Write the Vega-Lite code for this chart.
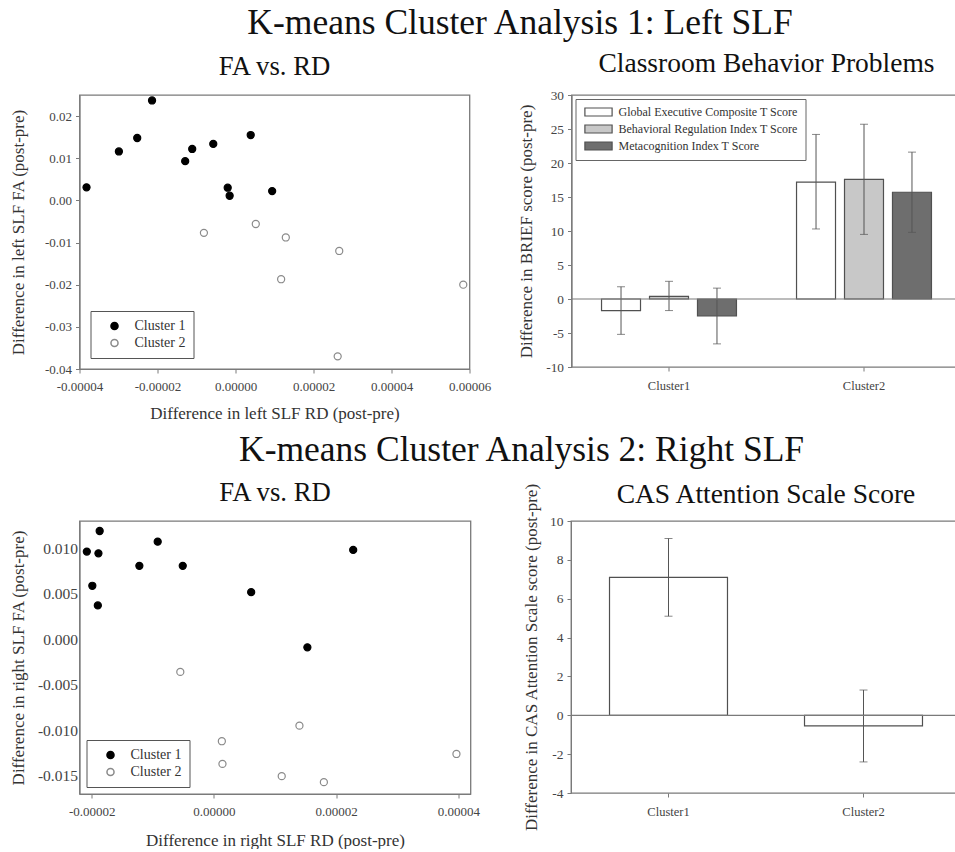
{
  "$schema": "https://vega.github.io/schema/vega-lite/v6.json",
  "padding": {"left": 8.5, "top": 6, "right": 0, "bottom": 0},
  "config": {
    "font": "Liberation Serif",
    "locale": {"number": {"decimal": ".", "thousands": ",", "grouping": [3], "currency": ["$", ""], "minus": "-"}},
    "view": {"stroke": "#7a7a7a", "strokeWidth": 1.3},
    "axis": {
      "grid": false,
      "labelFont": "Liberation Serif",
      "labelFontSize": 13,
      "labelColor": "#444444",
      "titleFont": "Liberation Serif",
      "titleFontSize": 17,
      "titleFontWeight": "normal",
      "titleColor": "#333333",
      "domainColor": "#7a7a7a",
      "tickColor": "#7a7a7a",
      "tickSize": 4,
      "labelPadding": 4,
      "labelOverlap": false
    },
    "title": {"font": "Liberation Serif", "fontWeight": "normal", "color": "#111111"},
    "concat": {"spacing": 20}
  },
  "datasets": {
    "s1": [
      {"rd": -3.82e-5, "fa": 0.0031, "cluster": "Cluster 1"},
      {"rd": -2.99e-5, "fa": 0.0116, "cluster": "Cluster 1"},
      {"rd": -2.52e-5, "fa": 0.0148, "cluster": "Cluster 1"},
      {"rd": -2.14e-5, "fa": 0.0237, "cluster": "Cluster 1"},
      {"rd": -1.29e-5, "fa": 0.0093, "cluster": "Cluster 1"},
      {"rd": -1.11e-5, "fa": 0.0122, "cluster": "Cluster 1"},
      {"rd": -0.57e-5, "fa": 0.0134, "cluster": "Cluster 1"},
      {"rd": -0.20e-5, "fa": 0.0030, "cluster": "Cluster 1"},
      {"rd": -0.15e-5, "fa": 0.0011, "cluster": "Cluster 1"},
      {"rd": 0.39e-5, "fa": 0.0155, "cluster": "Cluster 1"},
      {"rd": 0.94e-5, "fa": 0.0022, "cluster": "Cluster 1"},
      {"rd": -0.81e-5, "fa": -0.0077, "cluster": "Cluster 2"},
      {"rd": 0.52e-5, "fa": -0.0056, "cluster": "Cluster 2"},
      {"rd": 1.29e-5, "fa": -0.0088, "cluster": "Cluster 2"},
      {"rd": 2.66e-5, "fa": -0.0120, "cluster": "Cluster 2"},
      {"rd": 1.17e-5, "fa": -0.0187, "cluster": "Cluster 2"},
      {"rd": 2.62e-5, "fa": -0.0370, "cluster": "Cluster 2"},
      {"rd": 5.84e-5, "fa": -0.0200, "cluster": "Cluster 2"}
    ],
    "s2": [
      {"rd": -2.08e-5, "fa": 0.00964, "cluster": "Cluster 1"},
      {"rd": -1.87e-5, "fa": 0.0119, "cluster": "Cluster 1"},
      {"rd": -1.89e-5, "fa": 0.00945, "cluster": "Cluster 1"},
      {"rd": -1.99e-5, "fa": 0.00588, "cluster": "Cluster 1"},
      {"rd": -1.90e-5, "fa": 0.00372, "cluster": "Cluster 1"},
      {"rd": -1.22e-5, "fa": 0.00807, "cluster": "Cluster 1"},
      {"rd": -0.92e-5, "fa": 0.01073, "cluster": "Cluster 1"},
      {"rd": -0.51e-5, "fa": 0.00807, "cluster": "Cluster 1"},
      {"rd": 0.61e-5, "fa": 0.00518, "cluster": "Cluster 1"},
      {"rd": 1.53e-5, "fa": -0.00088, "cluster": "Cluster 1"},
      {"rd": 2.28e-5, "fa": 0.00982, "cluster": "Cluster 1"},
      {"rd": -0.55e-5, "fa": -0.00358, "cluster": "Cluster 2"},
      {"rd": 0.13e-5, "fa": -0.0112, "cluster": "Cluster 2"},
      {"rd": 0.14e-5, "fa": -0.01369, "cluster": "Cluster 2"},
      {"rd": 1.11e-5, "fa": -0.01504, "cluster": "Cluster 2"},
      {"rd": 1.40e-5, "fa": -0.00949, "cluster": "Cluster 2"},
      {"rd": 1.80e-5, "fa": -0.0157, "cluster": "Cluster 2"},
      {"rd": 3.97e-5, "fa": -0.0126, "cluster": "Cluster 2"}
    ],
    "b1": [
      {"cluster": "Cluster1", "measure": "Global Executive Composite T Score", "mean": -1.7, "lo": -5.2, "hi": 1.8},
      {"cluster": "Cluster1", "measure": "Behavioral Regulation Index T Score", "mean": 0.4, "lo": -1.7, "hi": 2.6},
      {"cluster": "Cluster1", "measure": "Metacognition Index T Score", "mean": -2.5, "lo": -6.6, "hi": 1.6},
      {"cluster": "Cluster2", "measure": "Global Executive Composite T Score", "mean": 17.2, "lo": 10.3, "hi": 24.2},
      {"cluster": "Cluster2", "measure": "Behavioral Regulation Index T Score", "mean": 17.6, "lo": 9.5, "hi": 25.7},
      {"cluster": "Cluster2", "measure": "Metacognition Index T Score", "mean": 15.7, "lo": 9.8, "hi": 21.6}
    ],
    "b2": [
      {"cluster": "Cluster1", "mean": 7.1, "lo": 5.1, "hi": 9.1},
      {"cluster": "Cluster2", "mean": -0.55, "lo": -2.4, "hi": 1.3}
    ]
  },
  "resolve": {"scale": {"fill": "independent", "stroke": "independent"}, "legend": {"fill": "independent", "stroke": "independent"}},
  "spacing": 11,
  "vconcat": [
    {
      "title": {"text": "K-means Cluster Analysis 1: Left SLF", "fontSize": 35.5, "anchor": "middle", "dx": 34, "offset": 7},
      "spacing": 25,
      "resolve": {"scale": {"fill": "independent", "stroke": "independent"}, "legend": {"fill": "independent", "stroke": "independent"}},
      "hconcat": [
        {
          "width": 390, "height": 274,
          "title": {"text": "FA vs. RD", "fontSize": 26.7, "anchor": "middle", "frame": "group", "offset": 14},
          "data": {"name": "s1"},
          "mark": {"type": "point", "shape": "circle", "size": 50, "strokeWidth": 1.2, "opacity": 1},
          "encoding": {
            "x": {"field": "rd", "type": "quantitative", "scale": {"domain": [-4e-5, 6e-5], "nice": false, "zero": false},
                  "axis": {"values": [-4e-5, -2e-5, 0, 2e-5, 4e-5, 6e-5], "format": ".5f", "title": "Difference in left SLF RD (post-pre)", "labelPadding": 7, "titlePadding": 12, "labelFlush": false}},
            "y": {"field": "fa", "type": "quantitative", "scale": {"domain": [-0.04, 0.025], "nice": false, "zero": false},
                  "axis": {"values": [-0.04, -0.03, -0.02, -0.01, 0, 0.01, 0.02], "format": ".2f", "title": "Difference in left SLF FA (post-pre)", "titlePadding": 16.5}},
            "fill": {"field": "cluster", "type": "nominal", "scale": {"domain": ["Cluster 1", "Cluster 2"], "range": ["#000000", "#ffffff"]},
                     "legend": {"title": null, "orient": "bottom-left", "offset": 11, "padding": 8, "strokeColor": "#555555", "fillColor": "#ffffff", "labelFontSize": 14, "labelColor": "#333333", "symbolSize": 50, "symbolOffset": 9, "labelOffset": 13, "rowPadding": 3}},
            "stroke": {"field": "cluster", "type": "nominal", "scale": {"domain": ["Cluster 1", "Cluster 2"], "range": ["#000000", "#8a8a8a"]},
                     "legend": {"title": null, "orient": "bottom-left", "offset": 11, "padding": 8, "strokeColor": "#555555", "fillColor": "#ffffff", "labelFontSize": 14, "labelColor": "#333333", "symbolSize": 50, "symbolOffset": 9, "labelOffset": 13, "rowPadding": 3}}
          }
        },
        {
          "width": 390, "height": 272,
          "title": {"text": "Classroom Behavior Problems", "fontSize": 27.5, "anchor": "middle", "frame": "group", "offset": 14, "dy": 3},
          "data": {"name": "b1"},
          "layer": [
            {
              "mark": {"type": "bar", "stroke": "#505050", "strokeWidth": 1.2},
              "encoding": {
                "x": {"field": "cluster", "type": "nominal", "scale": {"paddingInner": 0.308, "paddingOuter": 0.154},
                      "axis": {"title": null, "labelAngle": 0, "labelFontSize": 12.5, "labelPadding": 8, "domain": false}},
                "xOffset": {"field": "measure", "type": "nominal", "sort": ["Global Executive Composite T Score", "Behavioral Regulation Index T Score", "Metacognition Index T Score"],
                            "scale": {"domain": ["Global Executive Composite T Score", "Behavioral Regulation Index T Score", "Metacognition Index T Score"], "paddingInner": 0.1875, "paddingOuter": 0}},
                "y": {"field": "mean", "type": "quantitative", "scale": {"domain": [-10, 30], "nice": false},
                      "axis": {"values": [-10, -5, 0, 5, 10, 15, 20, 25, 30], "labelFontSize": 13.3, "title": "Difference in BRIEF score (post-pre)", "titlePadding": 10}},
                "fill": {"field": "measure", "type": "nominal",
                         "scale": {"domain": ["Global Executive Composite T Score", "Behavioral Regulation Index T Score", "Metacognition Index T Score"], "range": ["#ffffff", "#c8c8c8", "#6e6e6e"]},
                         "legend": {"title": null, "orient": "top-left", "offset": 4, "padding": 7, "strokeColor": "#666666", "fillColor": "#ffffff", "labelFontSize": 12, "labelColor": "#333333", "symbolType": "M-3.4,-1H3.4V1H-3.4Z", "symbolSize": 64, "symbolStrokeColor": "#505050", "symbolStrokeWidth": 1.2, "symbolOffset": 10, "labelOffset": 14, "rowPadding": 3, "labelLimit": 300}}
              }
            },
            {
              "mark": {"type": "rule", "color": "#555555", "strokeWidth": 1},
              "encoding": {
                "x": {"field": "cluster", "type": "nominal"},
                "xOffset": {"field": "measure", "type": "nominal"},
                "y": {"field": "lo", "type": "quantitative", "axis": {"values": [-10, -5, 0, 5, 10, 15, 20, 25, 30], "labelFontSize": 13.3, "title": "Difference in BRIEF score (post-pre)", "titlePadding": 10}},
                "y2": {"field": "hi"}
              }
            },
            {
              "mark": {"type": "tick", "color": "#555555", "size": 8, "thickness": 1},
              "encoding": {
                "x": {"field": "cluster", "type": "nominal"},
                "xOffset": {"field": "measure", "type": "nominal"},
                "y": {"field": "lo", "type": "quantitative", "axis": {"values": [-10, -5, 0, 5, 10, 15, 20, 25, 30], "labelFontSize": 13.3, "title": "Difference in BRIEF score (post-pre)", "titlePadding": 10}}
              }
            },
            {
              "mark": {"type": "tick", "color": "#555555", "size": 8, "thickness": 1},
              "encoding": {
                "x": {"field": "cluster", "type": "nominal"},
                "xOffset": {"field": "measure", "type": "nominal"},
                "y": {"field": "hi", "type": "quantitative", "axis": {"values": [-10, -5, 0, 5, 10, 15, 20, 25, 30], "labelFontSize": 13.3, "title": "Difference in BRIEF score (post-pre)", "titlePadding": 10}}
              }
            },
            {
              "data": {"values": [{"z": 0}]},
              "mark": {"type": "rule", "color": "#7a7a7a", "strokeWidth": 1.2},
              "encoding": {"y": {"field": "z", "type": "quantitative", "axis": {"values": [-10, -5, 0, 5, 10, 15, 20, 25, 30], "labelFontSize": 13.3, "title": "Difference in BRIEF score (post-pre)", "titlePadding": 10}}}
            }
          ]
        }
      ]
    },
    {
      "title": {"text": "K-means Cluster Analysis 2: Right SLF", "fontSize": 35.5, "anchor": "middle", "dx": 36, "offset": 11},
      "spacing": 40.5,
      "resolve": {"scale": {"fill": "independent", "stroke": "independent"}, "legend": {"fill": "independent", "stroke": "independent"}},
      "hconcat": [
        {
          "width": 391, "height": 273,
          "title": {"text": "FA vs. RD", "fontSize": 26.7, "anchor": "middle", "frame": "group", "offset": 14},
          "data": {"name": "s2"},
          "mark": {"type": "point", "shape": "circle", "size": 50, "strokeWidth": 1.2, "opacity": 1},
          "encoding": {
            "x": {"field": "rd", "type": "quantitative", "scale": {"domain": [-2.2e-5, 4.2e-5], "nice": false, "zero": false},
                  "axis": {"values": [-2e-5, 0, 2e-5, 4e-5], "format": ".5f", "title": "Difference in right SLF RD (post-pre)", "labelPadding": 7, "titlePadding": 14, "labelFlush": false}},
            "y": {"field": "fa", "type": "quantitative", "scale": {"domain": [-0.017, 0.013], "nice": false, "zero": false},
                  "axis": {"values": [-0.015, -0.01, -0.005, 0, 0.005, 0.01], "format": ".3f", "title": "Difference in right SLF FA (post-pre)", "titlePadding": 10, "ticks": false, "labelPadding": 2, "labelFontSize": 15.5}},
            "fill": {"field": "cluster", "type": "nominal", "scale": {"domain": ["Cluster 1", "Cluster 2"], "range": ["#000000", "#ffffff"]},
                     "legend": {"title": null, "orient": "bottom-left", "offset": 7, "padding": 8, "strokeColor": "#555555", "fillColor": "#ffffff", "labelFontSize": 14, "labelColor": "#333333", "symbolSize": 50, "symbolOffset": 9, "labelOffset": 13, "rowPadding": 3}},
            "stroke": {"field": "cluster", "type": "nominal", "scale": {"domain": ["Cluster 1", "Cluster 2"], "range": ["#000000", "#8a8a8a"]},
                     "legend": {"title": null, "orient": "bottom-left", "offset": 7, "padding": 8, "strokeColor": "#555555", "fillColor": "#ffffff", "labelFontSize": 14, "labelColor": "#333333", "symbolSize": 50, "symbolOffset": 9, "labelOffset": 13, "rowPadding": 3}}
          }
        },
        {
          "width": 390, "height": 272,
          "title": {"text": "CAS Attention Scale Score", "fontSize": 27.5, "anchor": "middle", "frame": "group", "offset": 14, "dy": 40},
          "data": {"name": "b2"},
          "layer": [
            {
              "mark": {"type": "bar", "stroke": "#505050", "strokeWidth": 1.2, "fill": "#ffffff"},
              "encoding": {
                "x": {"field": "cluster", "type": "nominal", "scale": {"paddingInner": 0.395, "paddingOuter": 0.1975},
                      "axis": {"title": null, "labelAngle": 0, "labelFontSize": 12.5, "labelPadding": 8, "domain": false}},
                "y": {"field": "mean", "type": "quantitative", "scale": {"domain": [-4, 10], "nice": false},
                      "axis": {"values": [-4, -2, 0, 2, 4, 6, 8, 10], "labelFontSize": 13.5, "title": "Difference in CAS Attention Scale score (post-pre)", "titlePadding": 9.5}}
              }
            },
            {
              "mark": {"type": "rule", "color": "#555555", "strokeWidth": 1},
              "encoding": {
                "x": {"field": "cluster", "type": "nominal"},
                "y": {"field": "lo", "type": "quantitative", "axis": {"values": [-4, -2, 0, 2, 4, 6, 8, 10], "labelFontSize": 13.5, "title": "Difference in CAS Attention Scale score (post-pre)", "titlePadding": 9.5}},
                "y2": {"field": "hi"}
              }
            },
            {
              "mark": {"type": "tick", "color": "#555555", "size": 8, "thickness": 1},
              "encoding": {
                "x": {"field": "cluster", "type": "nominal"},
                "y": {"field": "lo", "type": "quantitative", "axis": {"values": [-4, -2, 0, 2, 4, 6, 8, 10], "labelFontSize": 13.5, "title": "Difference in CAS Attention Scale score (post-pre)", "titlePadding": 9.5}}
              }
            },
            {
              "mark": {"type": "tick", "color": "#555555", "size": 8, "thickness": 1},
              "encoding": {
                "x": {"field": "cluster", "type": "nominal"},
                "y": {"field": "hi", "type": "quantitative", "axis": {"values": [-4, -2, 0, 2, 4, 6, 8, 10], "labelFontSize": 13.5, "title": "Difference in CAS Attention Scale score (post-pre)", "titlePadding": 9.5}}
              }
            },
            {
              "data": {"values": [{"z": 0}]},
              "mark": {"type": "rule", "color": "#7a7a7a", "strokeWidth": 1.2},
              "encoding": {"y": {"field": "z", "type": "quantitative", "axis": {"values": [-4, -2, 0, 2, 4, 6, 8, 10], "labelFontSize": 13.5, "title": "Difference in CAS Attention Scale score (post-pre)", "titlePadding": 9.5}}}
            }
          ]
        }
      ]
    }
  ]
}
